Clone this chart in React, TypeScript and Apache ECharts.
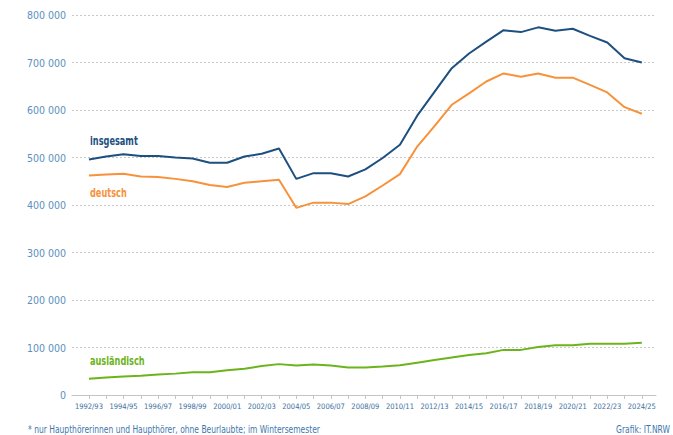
import React, { useEffect, useRef } from "react";
import * as echarts from "echarts";

const categories = [
  "1992/93", "1993/94", "1994/95", "1995/96", "1996/97", "1997/98", "1998/99", "1999/00",
  "2000/01", "2001/02", "2002/03", "2003/04", "2004/05", "2005/06", "2006/07", "2007/08",
  "2008/09", "2009/10", "2010/11", "2011/12", "2012/13", "2013/14", "2014/15", "2015/16",
  "2016/17", "2017/18", "2018/19", "2019/20", "2020/21", "2021/22", "2022/23", "2023/24",
  "2024/25",
];

const insgesamt = [
  496000, 502000, 507000, 503000, 503000, 500000, 498000, 489000,
  489000, 502000, 508000, 519000, 455000, 467000, 467000, 460000,
  475000, 499000, 527000, 588000, 638000, 688000, 719000, 744000,
  768000, 764000, 774000, 767000, 771000, 756000, 742000, 709000,
  700000,
];

const deutsch = [
  462000, 464000, 466000, 460000, 459000, 455000, 450000, 442000,
  438000, 447000, 450000, 453000, 394000, 405000, 405000, 402000,
  418000, 441000, 465000, 523000, 566000, 611000, 635000, 660000,
  677000, 670000, 677000, 668000, 668000, 653000, 637000, 606000,
  592000,
];

const auslaendisch = [
  34000, 37000, 39000, 40500, 43000, 45000, 48000, 48000,
  52000, 55500, 61000, 65000, 62000, 64000, 62000, 58000,
  58000, 60000, 62500, 68000, 73500, 79000, 84000, 88000,
  95000, 95000, 101000, 104500, 104500, 108000, 108000, 108000,
  110000,
];

const yTicks = [0, 100000, 200000, 300000, 400000, 500000, 600000, 700000, 800000];

const FONT = '"DejaVu Sans Condensed", "DejaVu Sans", sans-serif';

const toPairs = (arr: number[]) => arr.map((v, i) => [i, v]);

export default function App() {
  const ref = useRef<HTMLDivElement>(null);

  useEffect(() => {
    if (!ref.current) return;
    const chart = echarts.init(ref.current, null, { renderer: "svg" });
    const tickIdx = categories.map((_, i) => i);
    const labelIdx = categories.map((_, i) => i).filter((i) => i % 2 === 0);

    const lineSeries = (name: string, data: number[], color: string) => ({
      name,
      type: "line",
      data: toPairs(data),
      symbol: "none",
      lineStyle: { color, width: 2 },
      itemStyle: { color },
      z: 3,
    });

    const label = (text: string, x: number, y: number, fill: string, font: string, align = "left", sx = 0.76) => ({
      type: "text",
      x,
      y,
      scaleX: sx,
      style: { text, fill, font, textAlign: align, textVerticalAlign: "middle" },
    });

    chart.setOption({
      animation: false,
      textStyle: { fontFamily: FONT },
      grid: { left: 72, right: 17, top: 15, bottom: 40, containLabel: false },
      xAxis: {
        type: "value",
        min: -0.98,
        max: 32.82,
        axisLine: { show: true, lineStyle: { color: "#c4c4c4", width: 1 } },
        axisTick: {
          show: true,
          customValues: tickIdx,
          length: 4,
          lineStyle: { color: "#c4c4c4" },
        },
        axisLabel: {
          customValues: labelIdx,
          formatter: (v: number) => categories[Math.round(v)] ?? "",
          color: "#3c6e9e",
          fontSize: 7.5,
          fontFamily: FONT,
          margin: 7,
        },
        splitLine: { show: false },
      },
      yAxis: {
        type: "value",
        min: 0,
        max: 800000,
        interval: 100000,
        axisLine: { show: false },
        axisTick: { show: false },
        axisLabel: {
          color: "#5b8fc0",
          fontSize: 10.5,
          fontFamily: FONT,
          margin: 6,
          formatter: (v: number) =>
            yTicks.includes(v) ? String(v).replace(/\B(?=(\d{3})+(?!\d))/g, " ") : "",
        },
        splitLine: {
          show: true,
          lineStyle: { color: "#c8c8c8", type: [2, 2], width: 1 },
        },
      },
      series: [
        lineSeries("insgesamt", insgesamt, "#1d4f7f"),
        lineSeries("deutsch", deutsch, "#f7923a"),
        lineSeries("ausländisch", auslaendisch, "#6cb41c"),
      ],
      graphic: [
        label("insgesamt", 90, 141.5, "#1d4f7f", `bold 12px ${FONT}`),
        label("deutsch", 90, 193.5, "#f7923a", `bold 12px ${FONT}`),
        label("ausländisch", 90, 361.5, "#6cb41c", `bold 12px ${FONT}`),
        label(
          "* nur Haupthörerinnen und Haupthörer, ohne Beurlaubte; im Wintersemester",
          28, 429.5, "#3d77ad", `10.5px ${FONT}`, "left", 0.8
        ),
        label("Grafik: IT.NRW", 670, 429.5, "#3d77ad", `10.5px ${FONT}`, "right", 0.8),
      ],
    });

    return () => chart.dispose();
  }, []);

  return (
    <div
      ref={ref}
      style={{ position: "fixed", left: 0, top: 0, width: 673, height: 435, background: "#fff" }}
    />
  );
}
